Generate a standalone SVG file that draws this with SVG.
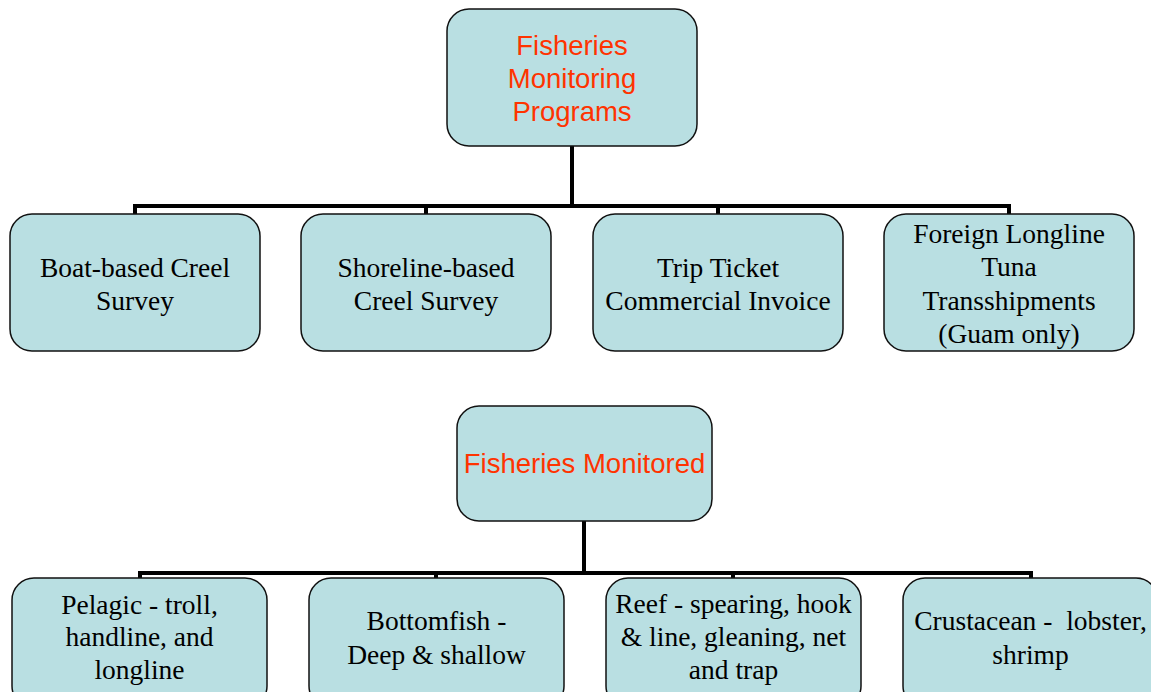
<svg xmlns="http://www.w3.org/2000/svg" width="1151" height="692" viewBox="0 0 1151 692">
  <style>
    .box { fill: #b9dfe2; stroke: #111; stroke-width: 1.5; }
    .root { font-family: "Liberation Sans", Arial, sans-serif; font-size: 27.5px; fill: #ff3300; text-anchor: middle; }
    .leaf { font-family: "Liberation Serif", "Times New Roman", serif; font-size: 27.5px; fill: #000; text-anchor: middle; }
    .wire { fill: none; stroke: #000; stroke-width: 4; }
  </style>
  <rect width="1151" height="692" fill="#fff"/>

  <!-- connectors -->
  <g id="connectors">
    <path class="wire" d="M572 146 V206 M135 206 H1009 M135 204 V214 M426 204 V214 M718 204 V214 M1009 204 V214"/>
    <path class="wire" d="M584 521 V573 M140 573 H1032 M140 571 V578 M436 571 V578 M733 571 V578 M1031 571 V578"/>
  </g>

  <!-- upper chart -->
  <g id="programs">
    <rect class="box" x="447" y="9" width="250" height="137" rx="22"/>
    <text class="root" x="572" y="55">Fisheries</text>
    <text class="root" x="572" y="88">Monitoring</text>
    <text class="root" x="572" y="121">Programs</text>
  </g>
  <g id="boat-creel">
    <rect class="box" x="10" y="214" width="250" height="137" rx="22"/>
    <text class="leaf" x="135" y="277">Boat-based Creel</text>
    <text class="leaf" x="135" y="310">Survey</text>
  </g>
  <g id="shore-creel">
    <rect class="box" x="301" y="214" width="250" height="137" rx="22"/>
    <text class="leaf" x="426" y="277">Shoreline-based</text>
    <text class="leaf" x="426" y="310">Creel Survey</text>
  </g>
  <g id="trip-ticket">
    <rect class="box" x="593" y="214" width="250" height="137" rx="22"/>
    <text class="leaf" x="718" y="277">Trip Ticket</text>
    <text class="leaf" x="718" y="310">Commercial Invoice</text>
  </g>
  <g id="transshipments">
    <rect class="box" x="884" y="214" width="250" height="137" rx="22"/>
    <text class="leaf" x="1009" y="243">Foreign Longline</text>
    <text class="leaf" x="1009" y="276">Tuna</text>
    <text class="leaf" x="1009" y="310">Transshipments</text>
    <text class="leaf" x="1009" y="343">(Guam only)</text>
  </g>

  <!-- lower chart -->
  <g id="monitored">
    <rect class="box" x="457" y="406" width="255" height="115" rx="22"/>
    <text class="root" x="584.5" y="473">Fisheries Monitored</text>
  </g>
  <g id="pelagic">
    <rect class="box" x="12" y="578" width="255" height="130" rx="22"/>
    <text class="leaf" x="139.5" y="614">Pelagic - troll,</text>
    <text class="leaf" x="139.5" y="646">handline, and</text>
    <text class="leaf" x="139.5" y="679">longline</text>
  </g>
  <g id="bottomfish">
    <rect class="box" x="309" y="578" width="255" height="130" rx="22"/>
    <text class="leaf" x="436.5" y="630">Bottomfish -</text>
    <text class="leaf" x="436.5" y="664">Deep &amp; shallow</text>
  </g>
  <g id="reef">
    <rect class="box" x="606" y="578" width="255" height="130" rx="22"/>
    <text class="leaf" x="733.5" y="613">Reef - spearing, hook</text>
    <text class="leaf" x="733.5" y="646">&amp; line, gleaning, net</text>
    <text class="leaf" x="733.5" y="679">and trap</text>
  </g>
  <g id="crustacean">
    <rect class="box" x="903" y="578" width="255" height="130" rx="22"/>
    <text class="leaf" x="1030.5" y="630" xml:space="preserve">Crustacean -  lobster,</text>
    <text class="leaf" x="1030.5" y="664">shrimp</text>
  </g>
</svg>
